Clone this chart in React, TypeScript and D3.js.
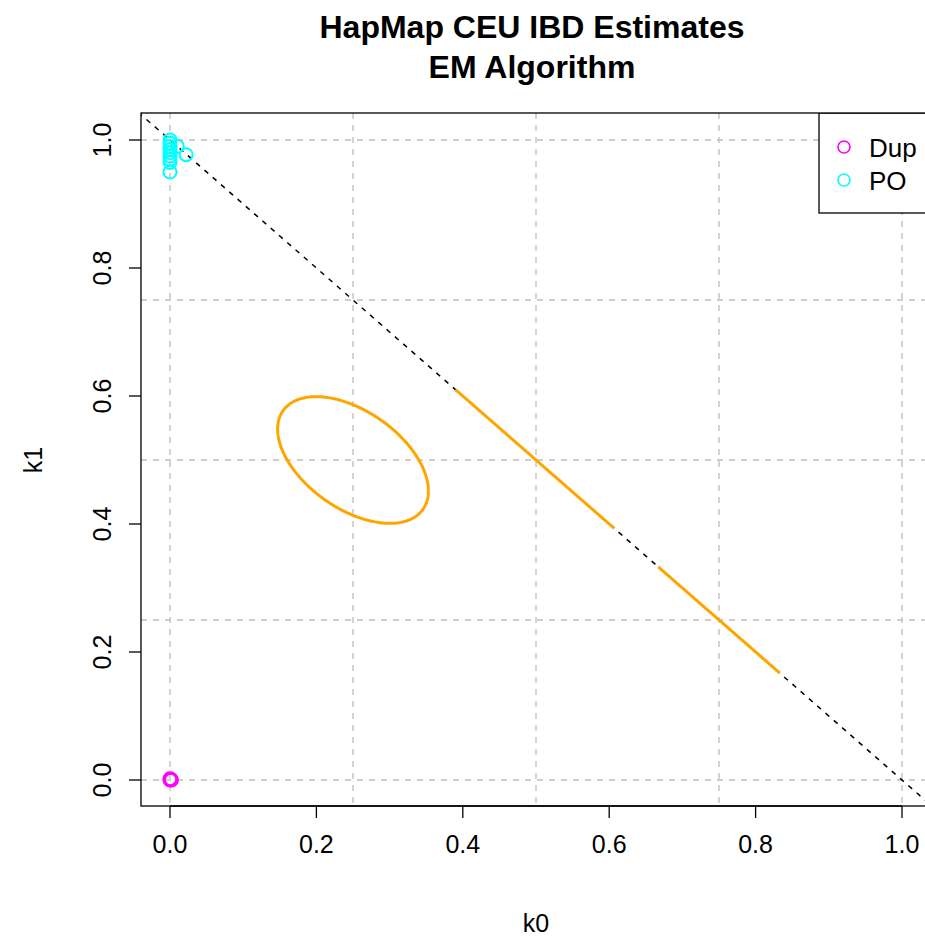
import React from "react";
import * as d3 from "d3";

const xTicks = [0, 0.2, 0.4, 0.6, 0.8, 1.0];
const yTicks = [0, 0.2, 0.4, 0.6, 0.8, 1.0];
const gridVals = [0, 0.25, 0.5, 0.75, 1.0];
const poK0 = [0, 0, 0, 0, 0, 0, 0, 0, 0, 0.022, 0.01];
const poK1 = [1.0, 0.995, 0.99, 0.985, 0.98, 0.975, 0.97, 0.965, 0.95, 0.977, 0.99];
const dupK0 = [0, 0.001, 0.002, 0];
const dupK1 = [0, 0.001, 0, 0.002];
const segStarts = [0.39, 0.667];
const segEnds = [0.607, 0.833];
// ellipse parameters: center, half-width, half-height, phase
const ellipse = { cx: 0.25, cy: 0.5, a: 0.103, b: 0.099, phi: 2.08 };

const W = 925, H = 936;
const x = d3.scaleLinear().domain([0, 1]).range([170, 902]);
const y = d3.scaleLinear().domain([0, 1]).range([780, 140]);
const L = 141, T = 113, R = 1000, B = 806;

export default function App() {
  const ts = d3.range(0, 2 * Math.PI + 0.01, 0.02);
  const ell = d3.line<number>()
    .x((t) => x(ellipse.cx + ellipse.a * Math.cos(t)))
    .y((t) => y(ellipse.cy + ellipse.b * Math.cos(t + ellipse.phi)))(ts);
  const font = "Liberation Sans, Arial, sans-serif";
  return (
    <svg width={W} height={H} style={{ position: "absolute", left: 0, top: 0, fontFamily: font }}>
      <rect width={W} height={H} fill="white" />
      <text x={532} y={38} textAnchor="middle" fontWeight="bold" fontSize={32}>HapMap CEU IBD Estimates</text>
      <text x={532} y={78} textAnchor="middle" fontWeight="bold" fontSize={32}>EM Algorithm</text>
      <defs><clipPath id="c"><rect x={L} y={T} width={R - L} height={B - T} /></clipPath></defs>
      <g clipPath="url(#c)">
        {gridVals.map((v) => (
          <g key={v}>
            <line x1={x(v)} x2={x(v)} y1={T} y2={B} stroke="#bebebe" strokeDasharray="6,6" strokeWidth={1.3} />
            <line x1={L} x2={R} y1={y(v)} y2={y(v)} stroke="#bebebe" strokeDasharray="6,6" strokeWidth={1.3} />
          </g>
        ))}
        <line x1={x(-0.1)} y1={y(1.1)} x2={x(1.1)} y2={y(-0.1)} stroke="black" strokeDasharray="5,6" strokeWidth={1.5} />
        {segStarts.map((s, i) => (
          <line key={i} x1={x(s)} y1={y(1 - s)} x2={x(segEnds[i])} y2={y(1 - segEnds[i])} stroke="orange" strokeWidth={3} />
        ))}
        <path d={ell!} fill="none" stroke="orange" strokeWidth={3} />
        {poK0.map((v, i) => (
          <circle key={"p" + i} cx={x(v)} cy={y(poK1[i])} r={6.5} fill="none" stroke="cyan" strokeWidth={2} />
        ))}
        {dupK0.map((v, i) => (
          <circle key={"d" + i} cx={x(v)} cy={y(dupK1[i])} r={6.5} fill="none" stroke="magenta" strokeWidth={2} />
        ))}
        <rect x={819} y={T} width={200} height={100} fill="white" stroke="black" strokeWidth={1.3} />
        <circle cx={844} cy={147} r={6} fill="none" stroke="magenta" strokeWidth={1.6} />
        <circle cx={844} cy={180} r={6} fill="none" stroke="cyan" strokeWidth={1.6} />
        <text x={869} y={157} fontSize={26}>Dup</text>
        <text x={869} y={190} fontSize={26}>PO</text>
      </g>
      <rect x={L} y={T} width={R - L} height={B - T} fill="none" stroke="black" strokeWidth={1.3} />
      {xTicks.map((v) => (
        <g key={v}>
          <line x1={x(v)} x2={x(v)} y1={B} y2={B + 12} stroke="black" strokeWidth={1.3} />
          <text x={x(v)} y={B + 47} textAnchor="middle" fontSize={25}>{v.toFixed(1)}</text>
        </g>
      ))}
      <line x1={x(0)} x2={x(1)} y1={B} y2={B} stroke="black" strokeWidth={1.3} />
      {yTicks.map((v) => (
        <g key={v}>
          <line x1={L} x2={L - 12} y1={y(v)} y2={y(v)} stroke="black" strokeWidth={1.3} />
          <text transform={`translate(${L - 30},${y(v)}) rotate(-90)`} textAnchor="middle" fontSize={25}>{v.toFixed(1)}</text>
        </g>
      ))}
      <text x={536} y={932} textAnchor="middle" fontSize={25}>k0</text>
      <text transform={`translate(42,460) rotate(-90)`} textAnchor="middle" fontSize={25}>k1</text>
    </svg>
  );
}
